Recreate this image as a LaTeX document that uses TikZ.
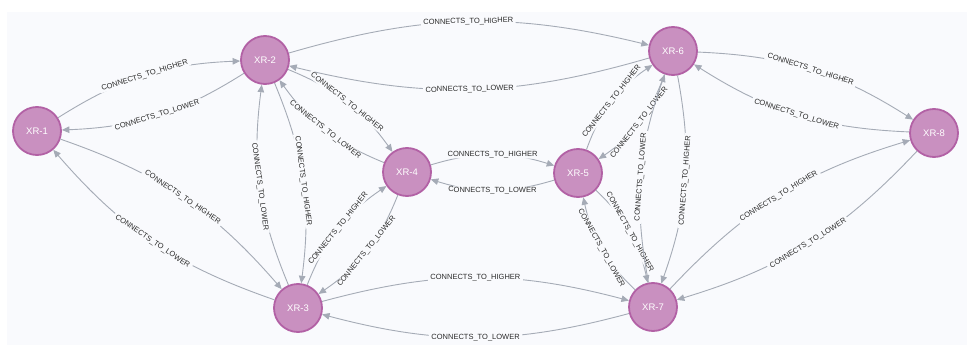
\documentclass[tikz,border=0pt]{standalone}
\usepackage{fontspec}
\setmainfont{Liberation Sans}
\usetikzlibrary{arrows.meta}
\definecolor{panel}{HTML}{F9FAFD}
\definecolor{nodefill}{HTML}{C990C0}
\definecolor{nodeline}{HTML}{B261A5}
\definecolor{relline}{HTML}{A5ABB6}
\definecolor{reltext}{HTML}{2A2A2A}
\tikzset{
  graphnode/.style={circle, minimum size=48pt, inner sep=0pt, fill=nodefill,
    draw=nodeline, line width=1.8pt, text=white,
    font=\fontsize{9.5}{10}\selectfont},
  rel/.style={draw=relline, line width=0.9pt,
    -{Triangle[length=7.5pt,width=6.5pt]}},
  rellabel/.style={sloped, midway, fill=panel, text=reltext,
    inner xsep=2.5pt, inner ysep=0.5pt, font=\fontsize{7.5}{8}\selectfont}
}
\begin{document}
\begin{tikzpicture}[x=1pt, y=-1pt]
  \useasboundingbox (0,0) rectangle (967,345);
  \fill[white] (0,0) rectangle (967,345);
  \fill[panel] (7,12.5) rectangle (967,345);

  % nodes
  \node[graphnode] (x1) at (37,131) {XR-1};
  \node[graphnode] (x2) at (265,60) {XR-2};
  \node[graphnode] (x3) at (298,308) {XR-3};
  \node[graphnode] (x4) at (407,172) {XR-4};
  \node[graphnode] (x5) at (578,173) {XR-5};
  \node[graphnode] (x6) at (673,51) {XR-6};
  \node[graphnode] (x7) at (653,307) {XR-7};
  \node[graphnode] (x8) at (934,133) {XR-8};

  % relationships, each pair bending apart (shorter pairs bend a little more)
  \foreach \a/\b/\bend in {x1/x2/15, x1/x3/15, x2/x6/15, x2/x4/16, x2/x3/15,
                           x4/x5/17, x3/x4/17, x3/x7/15, x5/x6/18, x5/x7/17,
                           x6/x7/15, x6/x8/15, x7/x8/15} {
    \path[rel] (\a) to[bend left=\bend] node[rellabel] {CONNECTS\_TO\_HIGHER} (\b);
    \path[rel] (\b) to[bend left=\bend] node[rellabel] {CONNECTS\_TO\_LOWER} (\a);
  }
\end{tikzpicture}
\end{document}
